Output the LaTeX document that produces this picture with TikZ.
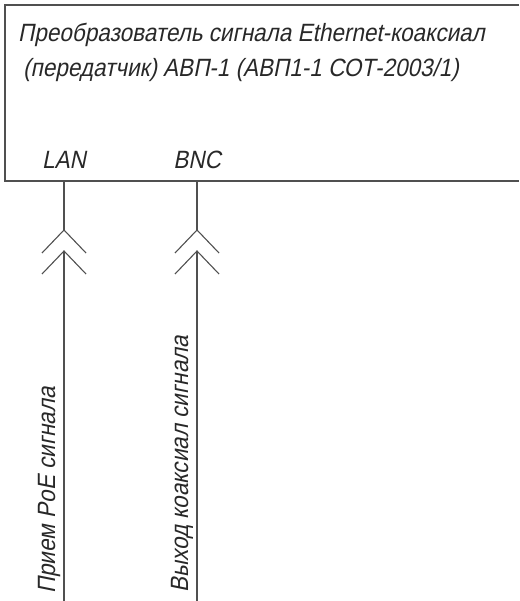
\documentclass[tikz,border=0pt]{standalone}
\usepackage{fontspec}
\newfontfamily\gostfont[FakeSlant=0.2,FakeStretch=0.9]{Liberation Sans}
\tikzset{
  wire/.style={draw={rgb,255:red,80;green,80;blue,80}, line width=1.1pt},
  lbl/.style={inner sep=0pt, text={rgb,255:red,40;green,40;blue,40}, font=\gostfont\fontsize{25}{25}\selectfont}
}
\begin{document}
\begin{tikzpicture}[x=1pt,y=1pt,yscale=-1,xscale=1]
\useasboundingbox (0,0) rectangle (519,601);
%Shape: Block of the converter, open on the right
\draw [wire] (519,5) -- (5,5) -- (5,181) -- (519,181) ;
% Text Node
\node (title1) [lbl, anchor=base west] at (18,42) {Преобразователь сигнала Ethernet-коаксиал};
\node (title2) [lbl, anchor=base west] at (23,77) {(передатчик) АВП-1 (АВП1-1 СОТ-2003/1)};
% Port labels
\node (lan) [lbl, anchor=base] at (64,169) {LAN};
\node (bnc) [lbl, anchor=base] at (197,169) {BNC};
%Straight Lines: port wires with plug symbol
\foreach \px/\pn in {64/lanp, 197/bncp}{
  \coordinate (\pn top) at (\px,181);
  \coordinate (\pn a) at (\px,230);
  \coordinate (\pn b) at (\px,251);
  \coordinate (\pn end) at (\px,601);
  \draw [wire] (\pn top) -- (\pn a) ;
  \draw [wire] (\pn b) -- (\pn end) ;
  \draw [wire] ([xshift=-22pt,yshift=23pt]\pn a) -- (\pn a) -- ([xshift=22pt,yshift=23pt]\pn a) ;
  \draw [wire] ([xshift=-22pt,yshift=23pt]\pn b) -- (\pn b) -- ([xshift=22pt,yshift=23pt]\pn b) ;
}
% Text Node: signal names along the wires
\node (rx) [lbl, rotate=90, anchor=base west] at (55,594) {Прием PoE сигнала};
\node (tx) [lbl, rotate=90, anchor=base west] at (188,593) {Выход коаксиал сигнала};
\end{tikzpicture}
\end{document}
